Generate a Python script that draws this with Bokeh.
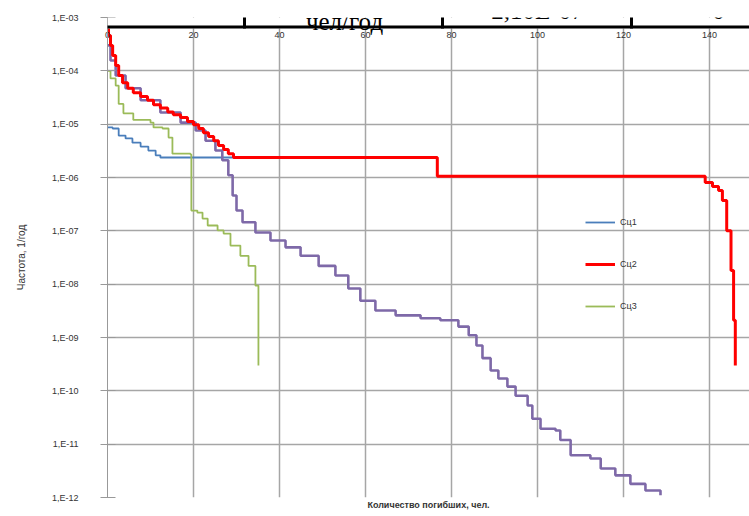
from bokeh.plotting import figure
from bokeh.models import (Range1d, LinearAxis, FixedTicker, Legend, LegendItem, Label, BoxAnnotation)
from bokeh.embed import file_html
from bokeh.resources import INLINE

# ---- data ----
x_ticks = [0, 20, 40, 60, 80, 100, 120, 140]
y_ticks = [1e-12, 1e-11, 1e-10, 1e-9, 1e-8, 1e-7, 1e-6, 1e-5, 1e-4, 1e-3]
y_tick_labels = ["1,E-12", "1,E-11", "1,E-10", "1,E-09", "1,E-08", "1,E-07",
                 "1,E-06", "1,E-05", "1,E-04", "1,E-03"]
series_names = ["Сц1", "Сц2", "Сц3"]

blue_x = [0, 1.2, 2.6, 4.2, 5.8, 7.7, 9.5, 11.2, 12.3, 76.7]
blue_y = [8.7e-6, 8.3e-6, 6.1e-6, 5.4e-6, 4.5e-6, 3.8e-6, 3.2e-6, 2.6e-6, 2.37e-6, 2.37e-6]

red_x = [0, 0.23, 0.7, 1.2, 1.9, 2.6, 3.5, 4.7, 6.0, 7.7, 9.3, 10.7, 12.3, 14.0, 15.3,
         17.0, 18.6, 20.0, 21.2, 22.3, 23.5, 24.7, 25.8, 27.0, 28.1, 29.3, 76.7, 137.9,
         139.0, 140.7, 142.1, 143.0, 144.0, 145.0, 145.6, 146.0]
red_y = [8.8e-4, 4.6e-4, 3.0e-4, 1.94e-4, 1.26e-4, 8.2e-5, 6.0e-5, 4.7e-5, 3.9e-5, 3.3e-5,
         2.8e-5, 2.3e-5, 2.0e-5, 1.7e-5, 1.5e-5, 1.33e-5, 1.12e-5, 9.8e-6, 8.3e-6, 6.9e-6,
         5.9e-6, 4.9e-6, 4.0e-6, 3.35e-6, 2.8e-6, 2.37e-6, 1.05e-6, 1.05e-6, 8.1e-7, 6.8e-7,
         5.7e-7, 3.7e-7, 1.0e-7, 1.8e-8, 2.1e-9, 3.0e-10]

green_x = [0, 0.7, 1.9, 2.6, 3.7, 6.0, 10.0, 10.7, 12.8, 14.2, 15.1, 19.3, 19.5, 20.9,
           22.1, 23.3, 25.6, 27.0, 28.6, 30.9, 32.8, 34.4, 35.1]
green_y = [1.0e-4, 7.2e-5, 5.3e-5, 2.4e-5, 1.6e-5, 1.2e-5, 1.07e-5, 8.7e-6, 8.3e-6, 5.6e-6,
           2.8e-6, 2.7e-6, 2.4e-7, 2.2e-7, 1.7e-7, 1.26e-7, 1.02e-7, 8.9e-8, 5.3e-8, 3.4e-8,
           2.2e-8, 9.4e-9, 3.0e-10]

purple_x = [0, 0.7, 1.9, 4.2, 7.7, 12.3, 17.0, 20.5, 22.8, 25.1, 26.7, 28.1, 29.1, 30.0,
            31.4, 34.4, 37.9, 41.4, 44.9, 49.1, 53.0, 56.0, 58.8, 62.3, 67.0, 72.8, 77.4,
            81.6, 84.0, 85.8, 87.2, 89.1, 90.9, 93.0, 94.9, 97.7, 98.8, 100.7, 104.2, 105.3,
            107.7, 112.3, 114.7, 118.1, 121.6, 125.1, 128.6]
purple_y = [3.0e-4, 1.56e-4, 8.2e-5, 4.7e-5, 2.8e-5, 1.66e-5, 1.07e-5, 7.6e-6, 4.9e-6, 3.2e-6,
            2.1e-6, 1.1e-6, 4.6e-7, 2.4e-7, 1.45e-7, 9.3e-8, 6.6e-8, 4.9e-8, 3.4e-8, 2.2e-8,
            1.45e-8, 8.3e-9, 4.9e-9, 3.2e-9, 2.6e-9, 2.3e-9, 2.1e-9, 1.6e-9, 1.1e-9, 7.1e-10,
            4.1e-10, 2.4e-10, 1.7e-10, 1.2e-10, 8.1e-11, 5.3e-11, 3.0e-11, 1.95e-11, 1.8e-11,
            1.2e-11, 6.2e-12, 5.4e-12, 3.5e-12, 2.6e-12, 1.8e-12, 1.35e-12, 1.1e-12]

table_texts = ["чел/год", "2,10E-07", "0"]

# ---- figure ----
p = figure(width=749, height=516, output_backend="svg", toolbar_location=None,
           y_axis_type="log", x_axis_location="above",
           x_range=Range1d(0, 149.3), y_range=Range1d(1e-12, 1e-3),
           min_border_left=107, min_border_right=0, min_border_top=17, min_border_bottom=19,
           outline_line_color=None, background_fill_color="white")

grid_col = "#a6a6a6"
p.xgrid.ticker = FixedTicker(ticks=x_ticks)
p.xgrid.grid_line_color = grid_col
p.xgrid.grid_line_width = 1.5
p.ygrid.grid_line_color = grid_col
p.ygrid.grid_line_width = 1.5

xa = p.xaxis[0]
xa.ticker = FixedTicker(ticks=x_ticks)
xa.axis_line_color = None
xa.major_tick_in = 16
xa.major_tick_out = 0
xa.major_tick_line_color = "#999999"
xa.minor_tick_line_color = None
xa.major_label_standoff = -20
xa.major_label_text_font = "Liberation Sans"
xa.major_label_text_font_size = "9px"
xa.major_label_text_color = "#333333"

ya = p.yaxis[0]
ya.ticker = FixedTicker(ticks=y_ticks)
ya.major_label_overrides = {t: s for t, s in zip(y_ticks, y_tick_labels)}
ya.axis_line_color = "#999999"
ya.major_tick_in = 8
ya.major_tick_out = 7
ya.major_tick_line_color = "#999999"
ya.minor_tick_line_color = None
ya.major_label_standoff = 22
ya.major_label_text_font = "Liberation Sans"
ya.major_label_text_font_size = "9px"
ya.major_label_text_color = "#333333"
ya.axis_label = "Частота, 1/год"
ya.axis_label_text_font = "Liberation Sans"
ya.axis_label_text_font_size = "10px"
ya.axis_label_text_font_style = "normal"
ya.axis_label_text_color = "#333333"
ya.axis_label_standoff = 22

bx = LinearAxis(axis_label="Количество погибших, чел.", axis_line_color=None,
                ticker=FixedTicker(ticks=[]),
                major_tick_in=0, major_tick_out=0, minor_tick_line_color=None,
                major_tick_line_color=None, major_label_standoff=0, axis_label_standoff=2,
                axis_label_text_font="Liberation Sans", axis_label_text_font_size="9px",
                axis_label_text_font_style="bold", axis_label_text_color="#333333")
p.add_layout(bx, "below")

# ---- series ----
r_blue = p.step(blue_x, blue_y, mode="after", line_color="#4A7EBB", line_width=1.8)
r_green = p.step(green_x, green_y, mode="after", line_color="#9BBB59", line_width=1.8)
r_purple = p.step(purple_x, purple_y, mode="after", line_color="#7E69A8", line_width=2.6)
r_red = p.step(red_x, red_y, mode="after", line_color="#FF0000", line_width=3)

legend = Legend(items=[LegendItem(label=series_names[0], renderers=[r_blue]),
                       LegendItem(label=series_names[1], renderers=[r_red]),
                       LegendItem(label=series_names[2], renderers=[r_green])],
                location=(478, 181), orientation="vertical",
                glyph_width=30, glyph_height=20, spacing=22, padding=0, margin=0,
                label_standoff=5, border_line_color=None, background_fill_alpha=0,
                label_text_font="Liberation Sans", label_text_font_size="9px",
                label_text_color="#333333")
p.add_layout(legend, "center")

# ---- table fragment on top ----
p.add_layout(BoxAnnotation(left=0, right=700, bottom=469, top=540,
                           left_units="screen", right_units="screen",
                           bottom_units="screen", top_units="screen",
                           fill_color="white", fill_alpha=1, line_color=None))
p.add_layout(BoxAnnotation(left=-60, right=700, bottom=469, top=472,
                           left_units="screen", right_units="screen",
                           bottom_units="screen", top_units="screen",
                           fill_color="black", fill_alpha=1, line_color=None))
for cx in [-59, 137, 335, 524]:
    p.add_layout(BoxAnnotation(left=cx - 1.5, right=cx + 1.5, bottom=469, top=540,
                               left_units="screen", right_units="screen",
                               bottom_units="screen", top_units="screen",
                               fill_color="black", fill_alpha=1, line_color=None))

for txt, tx, ty in zip(table_texts, [237, 430, 611], [476, 487, 487]):
    p.add_layout(Label(x=tx, y=ty, x_units="screen", y_units="screen", text=txt,
                       text_align="center", text_baseline="alphabetic",
                       text_font="Liberation Serif", text_font_size="25px",
                       text_color="black"))

open("out.html", "w").write(file_html(p, INLINE))
